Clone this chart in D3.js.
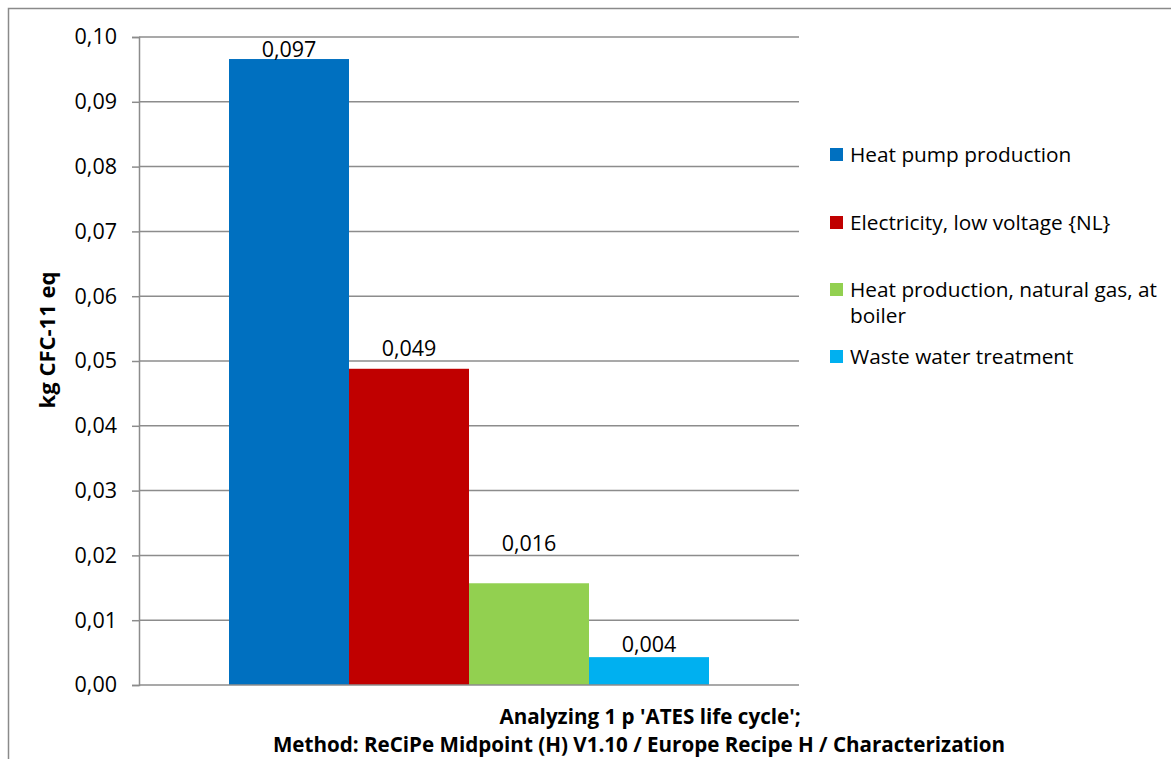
<!DOCTYPE html>
<html>
<head>
<meta charset="utf-8">
<script src="https://cdn.jsdelivr.net/npm/d3@7"></script>
<style>
  html, body { margin: 0; padding: 0; background: #fff; }
  svg text { font-family: "Open Sans", "Noto Sans", sans-serif; }
</style>
</head>
<body>
<svg id="chart" width="1171" height="759"></svg>
<script>
// ---- data ----
const categories = ["ATES life cycle"];
const seriesNames = [
  "Heat pump production",
  "Electricity, low voltage {NL}",
  "Heat production, natural gas, at boiler",
  "Waste water treatment"
];
const seriesValues = [0.0966, 0.0488, 0.0157, 0.0043];
const valueLabels = ["0,097", "0,049", "0,016", "0,004"];
const yTicks = [0, 0.01, 0.02, 0.03, 0.04, 0.05, 0.06, 0.07, 0.08, 0.09, 0.10];
const yAxisTitle = "kg CFC-11 eq";
const xTitleLines = [
  "Analyzing 1 p 'ATES life cycle';",
  "Method: ReCiPe Midpoint (H) V1.10 / Europe Recipe H / Characterization"
];

// ---- style / layout ----
const colors = ["#0070C0", "#C00000", "#92D050", "#00B0F0"];
const labelGap = [2, 13, 32, 5];
const gridColor = "#8c8c8c";
const plot = { left: 139, right: 799, top: 37, bottom: 685 };

const svg = d3.select("#chart");

// outer frame
svg.append("path")
  .attr("d", "M8.5,759 L8.5,8.5 L1171,8.5")
  .attr("fill", "none").attr("stroke", "#8a8a8a").attr("stroke-width", 1.5);

const y = d3.scaleLinear().domain([0, 0.10]).range([plot.bottom, plot.top]);
const x0 = d3.scaleBand().domain(categories).range([plot.left, plot.right])
  .paddingInner(0).paddingOuter(0.1875);
const x1 = d3.scaleBand().domain(seriesNames).range([0, x0.bandwidth()]).padding(0);

// gridlines
svg.append("g").selectAll("line").data(yTicks.slice(1)).join("line")
  .attr("x1", plot.left).attr("x2", plot.right)
  .attr("y1", d => y(d)).attr("y2", d => y(d))
  .attr("stroke", gridColor).attr("stroke-width", 1.5);

// y axis
const yAxis = d3.axisLeft(y).tickValues(yTicks)
  .tickFormat(d => d3.format(".2f")(d).replace(".", ","))
  .tickSize(7).tickPadding(15);
const gy = svg.append("g").attr("transform", `translate(${plot.left},0)`).call(yAxis);
gy.select(".domain").attr("stroke", gridColor).attr("stroke-width", 1.5);
gy.selectAll(".tick line").attr("stroke", gridColor).attr("stroke-width", 1.5);
gy.selectAll(".tick text").attr("font-size", 21.5).attr("fill", "#000")
  .attr("font-family", "'Open Sans', sans-serif");

// bars
const barsG = svg.append("g");
const barData = seriesNames.map((s, i) => ({ s, v: seriesValues[i], i, c: categories[0] }));
barsG.selectAll("rect").data(barData).join("rect")
  .attr("x", d => x0(d.c) + x1(d.s))
  .attr("width", x1.bandwidth())
  .attr("y", d => y(d.v))
  .attr("height", d => y(0) - y(d.v))
  .attr("fill", (d, i) => colors[i]);

// x axis baseline
svg.append("line")
  .attr("x1", plot.left).attr("x2", plot.right)
  .attr("y1", y(0)).attr("y2", y(0))
  .attr("stroke", gridColor).attr("stroke-width", 1.5);

// value labels
barsG.selectAll("text").data(barData).join("text")
  .attr("x", d => x0(d.c) + x1(d.s) + x1.bandwidth() / 2)
  .attr("y", d => y(d.v) - labelGap[d.i])
  .attr("text-anchor", "middle")
  .attr("font-size", 21.5).attr("fill", "#000")
  .text(d => valueLabels[d.i]);

// y axis title
svg.append("text")
  .attr("transform", "translate(55,340) rotate(-90)")
  .attr("text-anchor", "middle")
  .attr("font-size", 22).attr("font-weight", "bold")
  .text(yAxisTitle);

// x axis title
const xTitleX = [650, 639];
const xTitleY = [724, 752];
svg.append("g").selectAll("text").data(xTitleLines).join("text")
  .attr("x", (d, i) => xTitleX[i]).attr("y", (d, i) => xTitleY[i])
  .attr("text-anchor", "middle")
  .attr("font-size", 20.6).attr("font-weight", "bold")
  .text(d => d);

// legend
const legendItems = [
  { lines: ["Heat pump production"], y: 155 },
  { lines: ["Electricity, low voltage {NL}"], y: 223 },
  { lines: ["Heat production, natural gas, at", "boiler"], y: 290 },
  { lines: ["Waste water treatment"], y: 357 }
];
const lg = svg.append("g");
legendItems.forEach((it, i) => {
  lg.append("rect").attr("x", 830).attr("y", it.y - 7).attr("width", 13).attr("height", 13)
    .attr("fill", colors[i]);
  it.lines.forEach((ln, j) => {
    lg.append("text").attr("x", 850).attr("y", it.y + 7 + j * 26)
      .attr("font-size", 20.8).attr("fill", "#000").text(ln);
  });
});
</script>
</body>
</html>
